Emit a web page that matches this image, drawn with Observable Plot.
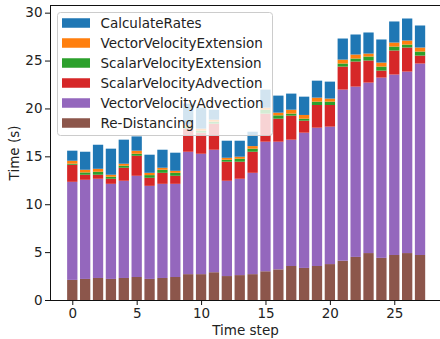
<!DOCTYPE html>
<html>
<head>
<meta charset="utf-8">
<script src="https://cdn.jsdelivr.net/npm/d3@7"></script>
<script src="https://cdn.jsdelivr.net/npm/@observablehq/plot@0.6"></script>
<style>
  html, body { margin: 0; padding: 0; background: white; }
  svg { display: block; }
</style>
</head>
<body>
<div id="chart"></div>
<script>
const steps = d3.range(28);
const seriesNames = ["Re-Distancing", "VectorVelocityAdvection", "ScalarVelocityAdvection", "ScalarVelocityExtension", "VectorVelocityExtension", "CalculateRates"];
const seriesColors = ["#8c564b", "#9467bd", "#d62728", "#2ca02c", "#ff7f0e", "#1f77b4"];
const legendOrder = ["CalculateRates", "VectorVelocityExtension", "ScalarVelocityExtension", "ScalarVelocityAdvection", "VectorVelocityAdvection", "Re-Distancing"];

const reDistancing = [2.1,2.2,2.3,2.2,2.3,2.4,2.2,2.3,2.4,2.7,2.7,2.9,2.5,2.6,2.7,3.0,3.2,3.55,3.35,3.55,3.75,4.1,4.5,4.9,4.4,4.7,4.9,4.7];
const vectorVelocityAdvection = [10.24,10.35,10.36,9.93,10.15,10.57,9.72,9.83,9.73,12.78,12.57,12.79,9.95,10.06,10.58,13.53,13.33,13.19,14.12,14.44,14.35,17.87,17.78,17.8,18.82,18.84,18.95,19.99];
const scalarVelocityAdvection = [1.78,0.53,0.42,0.53,1.36,2.09,0.84,1.15,0.84,2.44,2.2,2.72,1.99,1.78,2.2,2.93,2.4,2.51,1.25,2.37,2.26,2.4,2.62,2.3,0.73,2.51,2.51,0.83];
const scalarVelocityExtension = [0.11,0.24,0.31,0.21,0.21,0.21,0.28,0.32,0.31,0.21,0.21,0.21,0.2,0.31,0.32,0.41,0.35,0.21,0.21,0.35,0.35,0.32,0.31,0.42,0.42,0.41,0.31,0.42];
const vectorVelocityExtension = [0.31,0.28,0.31,0.21,0.21,0.32,0.24,0.21,0.21,0.17,0.21,0.21,0.21,0.21,0.27,0.21,0.28,0.41,0.39,0.42,0.32,0.41,0.42,0.31,0.42,0.42,0.42,0.42];
const calculateRates = [1.05,1.88,2.51,2.72,2.51,1.49,1.89,1.88,1.89,2.2,2.19,1.04,1.78,1.67,1.5,1.89,1.78,1.68,1.91,1.77,1.77,2.2,2.09,2.2,2.41,2.2,2.3,2.3];

const xTicks = [0, 5, 10, 15, 20, 25];
const yTicks = [0, 5, 10, 15, 20, 25, 30];

const seriesValues = [reDistancing, vectorVelocityAdvection, scalarVelocityAdvection, scalarVelocityExtension, vectorVelocityExtension, calculateRates];

// Build stacked rows (bottom to top)
const rows = [];
steps.forEach((t, i) => {
  let acc = 0;
  seriesNames.forEach((name, s) => {
    const v = seriesValues[s][i];
    rows.push({t, series: name, y1: acc, y2: acc + v});
    acc += v;
  });
});

const xDomain = [-1.73, 28.55];
const yDomain = [0, 30.8];
const FONT = "DejaVu Sans";

const chart = Plot.plot({
  width: 440,
  height: 339,
  marginLeft: 50,
  marginRight: 0,
  marginTop: 5,
  marginBottom: 39,
  style: {fontFamily: FONT, fontSize: "13.5px", color: "#222", background: "white", overflow: "visible"},
  x: {domain: xDomain},
  y: {domain: yDomain},
  color: {domain: seriesNames, range: seriesColors},
  marks: [
    Plot.rect(rows, {x1: d => d.t - 0.4, x2: d => d.t + 0.4, y1: "y1", y2: "y2", fill: "series"}),
    Plot.ruleX([xDomain[0]], {stroke: "#111", strokeWidth: 1}),
    Plot.ruleY([yDomain[0]], {stroke: "#111", strokeWidth: 1}),
    Plot.ruleY([yDomain[1]], {stroke: "#111", strokeWidth: 1}),
    Plot.axisX({ticks: xTicks, tickFormat: d => String(d), tickSize: 5, tickPadding: 3, stroke: "#111", label: "Time step", labelAnchor: "center", labelOffset: 34, labelArrow: "none", fontSize: 13.5}),
    Plot.axisY({ticks: yTicks, tickFormat: d => String(d), tickSize: 5, tickPadding: 3, stroke: "#111", label: "Time (s)", labelAnchor: "center", labelOffset: 41, labelArrow: "none", fontSize: 13.5})
  ]
});

document.getElementById("chart").appendChild(chart);

// Legend (inside the plot, upper left)
const svg = d3.select(chart.tagName.toLowerCase() === "svg" ? chart : chart.querySelector("svg"));
const lg = svg.append("g").attr("font-family", FONT).attr("font-size", "13.5px").attr("text-anchor", "start");
lg.append("rect")
  .attr("x", 57.5).attr("y", 12.5).attr("width", 215).attr("height", 123)
  .attr("rx", 3).attr("fill", "white").attr("fill-opacity", 0.8)
  .attr("stroke", "#cccccc").attr("stroke-width", 1);
legendOrder.forEach((name, i) => {
  const cy = 23 + i * 20;
  lg.append("rect").attr("x", 62).attr("y", cy - 4.75).attr("width", 28).attr("height", 9.5)
    .attr("fill", seriesColors[seriesNames.indexOf(name)]);
  lg.append("text").attr("x", 100.5).attr("y", cy).attr("dy", "0.36em")
    .attr("text-anchor", "start").attr("fill", "#222").text(name);
});
</script>
</body>
</html>
